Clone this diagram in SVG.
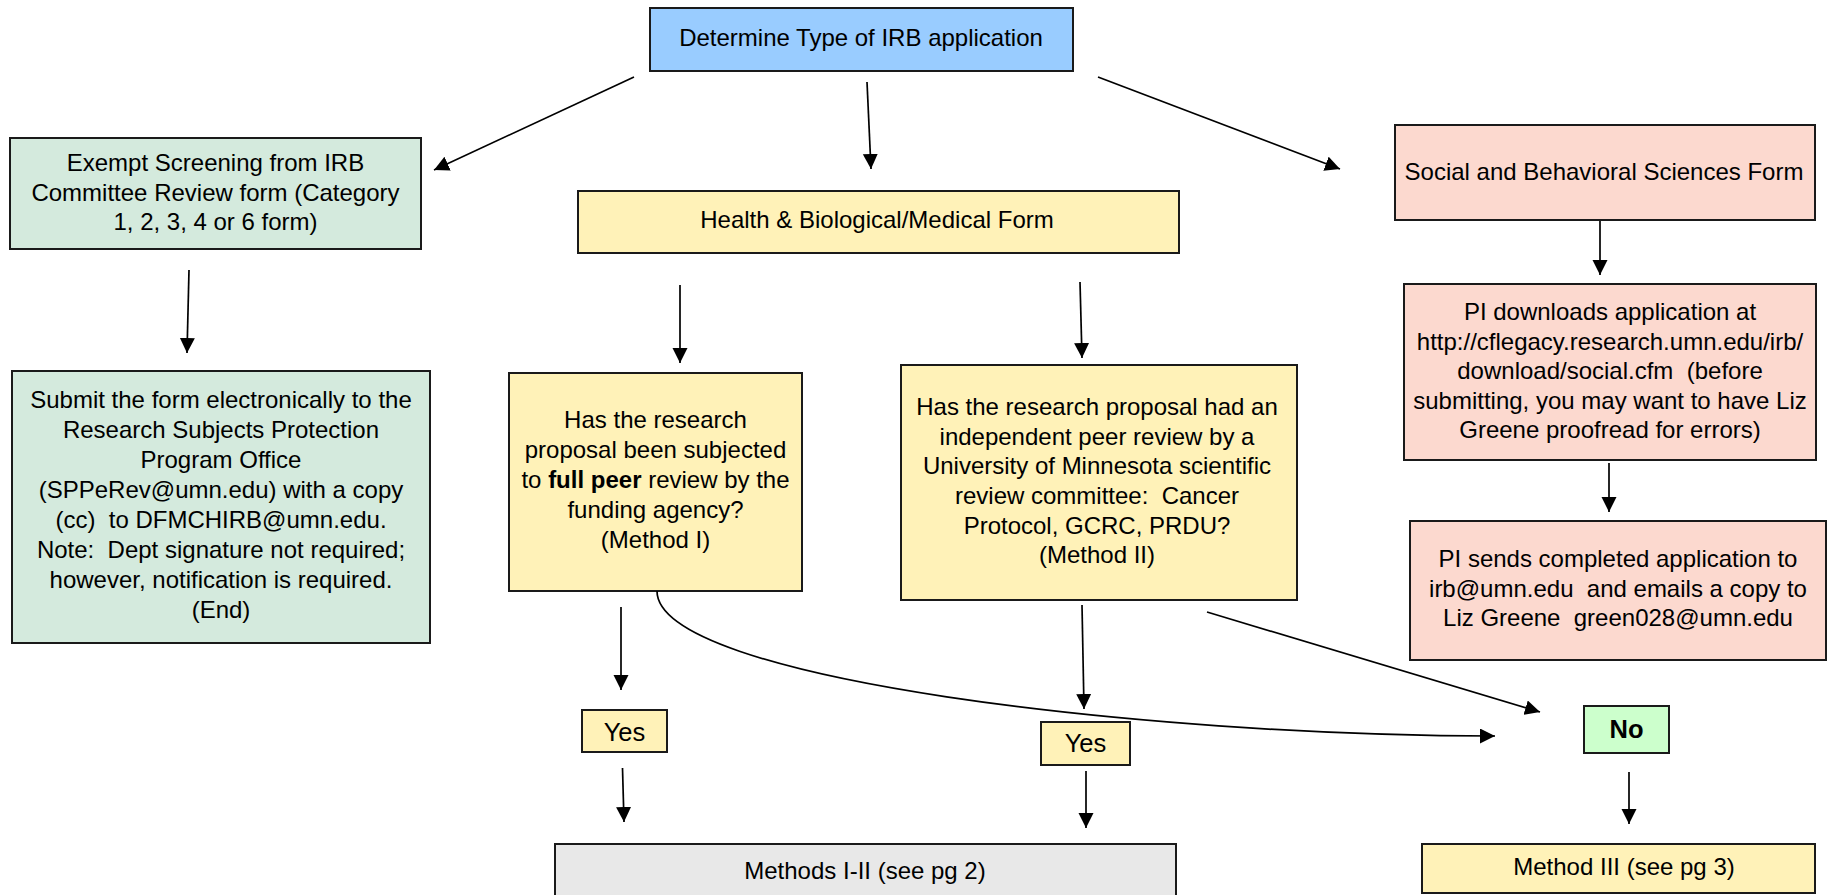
<svg xmlns="http://www.w3.org/2000/svg" width="1828" height="895" viewBox="0 0 1828 895">
<style>
  .box { stroke: #1a1a1a; stroke-width: 2; }
  .blue { fill: #99CCFF; }
  .green { fill: #D4EADD; }
  .yellow { fill: #FFF2B8; }
  .pink { fill: #FCD9CF; }
  .lgreen { fill: #CCFFCC; }
  .grey { fill: #E8E8E8; }
  text { font-family: "Liberation Sans", Arial, Helvetica, sans-serif; font-size: 24px; fill: #000; text-anchor: middle; white-space: pre; }
  .big { font-size: 25.5px; }
  .bold { font-weight: bold; }
  .conn line, .conn path { stroke: #000; stroke-width: 1.7; fill: none; marker-end: url(#arrow); }
</style>
<defs>
  <marker id="arrow" markerUnits="userSpaceOnUse" markerWidth="16" markerHeight="16" refX="15" refY="7.5" orient="auto">
    <path d="M0,0 L15,7.5 L0,15 z" fill="#000"/>
  </marker>
</defs>
<rect x="0" y="0" width="1828" height="895" fill="#fff"/>

<g id="determine">
  <rect class="box blue" x="650" y="8" width="423" height="63"/>
  <text x="861" y="46">Determine Type of IRB application</text>
</g>
<g id="exempt">
  <rect class="box green" x="10" y="138" width="411" height="111"/>
  <text x="215.5" y="171">Exempt Screening from IRB</text>
  <text x="215.5" y="200.5">Committee Review form (Category</text>
  <text x="215.5" y="230">1, 2, 3, 4 or 6 form)</text>
</g>
<g id="health">
  <rect class="box yellow" x="578" y="191" width="601" height="62"/>
  <text x="877" y="228">Health &amp; Biological/Medical Form</text>
</g>
<g id="social">
  <rect class="box pink" x="1395" y="125" width="420" height="95"/>
  <text x="1604" y="180">Social and Behavioral Sciences Form</text>
</g>
<g id="submit">
  <rect class="box green" x="12" y="371" width="418" height="272"/>
  <text x="221" y="408">Submit the form electronically to the</text>
  <text x="221" y="438">Research Subjects Protection</text>
  <text x="221" y="468">Program Office</text>
  <text x="221" y="498">(SPPeRev@umn.edu) with a copy</text>
  <text x="221" y="528" xml:space="preserve">(cc)  to DFMCHIRB@umn.edu.</text>
  <text x="221" y="558" xml:space="preserve">Note:  Dept signature not required;</text>
  <text x="221" y="588">however, notification is required.</text>
  <text x="221" y="618">(End)</text>
</g>
<g id="method1">
  <rect class="box yellow" x="509" y="373" width="293" height="218"/>
  <text x="655.5" y="428">Has the research</text>
  <text x="655.5" y="458">proposal been subjected</text>
  <text x="655.5" y="488">to <tspan class="bold">full peer</tspan> review by the</text>
  <text x="655.5" y="518">funding agency?</text>
  <text x="655.5" y="548">(Method I)</text>
</g>
<g id="method2">
  <rect class="box yellow" x="901" y="365" width="396" height="235"/>
  <text x="1097" y="415">Has the research proposal had an</text>
  <text x="1097" y="444.5">independent peer review by a</text>
  <text x="1097" y="474">University of Minnesota scientific</text>
  <text x="1097" y="504" xml:space="preserve">review committee:  Cancer</text>
  <text x="1097" y="533.5">Protocol, GCRC, PRDU?</text>
  <text x="1097" y="563">(Method II)</text>
</g>
<g id="pidownloads">
  <rect class="box pink" x="1404" y="284" width="412" height="176"/>
  <text x="1610" y="320">PI downloads application at</text>
  <text x="1610" y="350">http://cflegacy.research.umn.edu/irb/</text>
  <text x="1610" y="379" xml:space="preserve">download/social.cfm  (before</text>
  <text x="1610" y="409">submitting, you may want to have Liz</text>
  <text x="1610" y="438">Greene proofread for errors)</text>
</g>
<g id="pisends">
  <rect class="box pink" x="1410" y="521" width="416" height="139"/>
  <text x="1618" y="567">PI sends completed application to</text>
  <text x="1618" y="597" xml:space="preserve">irb@umn.edu  and emails a copy to</text>
  <text x="1618" y="626" xml:space="preserve">Liz Greene  green028@umn.edu</text>
</g>
<g id="yes1">
  <rect class="box yellow" x="582" y="710" width="85" height="42"/>
  <text class="big" x="624.5" y="741">Yes</text>
</g>
<g id="yes2">
  <rect class="box yellow" x="1041" y="722" width="89" height="43"/>
  <text class="big" x="1085.5" y="752">Yes</text>
</g>
<g id="no">
  <rect class="box lgreen" x="1584" y="706" width="85" height="47"/>
  <text class="big bold" x="1626.5" y="738">No</text>
</g>
<g id="methods12">
  <rect class="box grey" x="555" y="844" width="621" height="64"/>
  <text x="865" y="879">Methods I-II (see pg 2)</text>
</g>
<g id="method3">
  <rect class="box yellow" x="1422" y="844" width="393" height="49"/>
  <text x="1624" y="875">Method III (see pg 3)</text>
</g>

<g id="connectors" class="conn">
  <line x1="634" y1="77" x2="434" y2="170"/>
  <line x1="867" y1="82" x2="871" y2="169"/>
  <line x1="1098" y1="77" x2="1340" y2="169"/>
  <line x1="189" y1="270" x2="187" y2="353"/>
  <line x1="680" y1="285" x2="680" y2="363"/>
  <line x1="1080" y1="282" x2="1082" y2="358"/>
  <line x1="1600" y1="221" x2="1600" y2="275"/>
  <line x1="1609" y1="463" x2="1609" y2="512"/>
  <line x1="621" y1="607" x2="621" y2="690"/>
  <line x1="622.5" y1="768" x2="624" y2="822"/>
  <line x1="1082" y1="605" x2="1084" y2="709"/>
  <line x1="1207" y1="612" x2="1540" y2="712"/>
  <path d="M657,591 C657,680 1150,736 1495,736"/>
  <line x1="1086" y1="771" x2="1086" y2="828"/>
  <line x1="1629" y1="772" x2="1629" y2="824"/>
</g>
</svg>
